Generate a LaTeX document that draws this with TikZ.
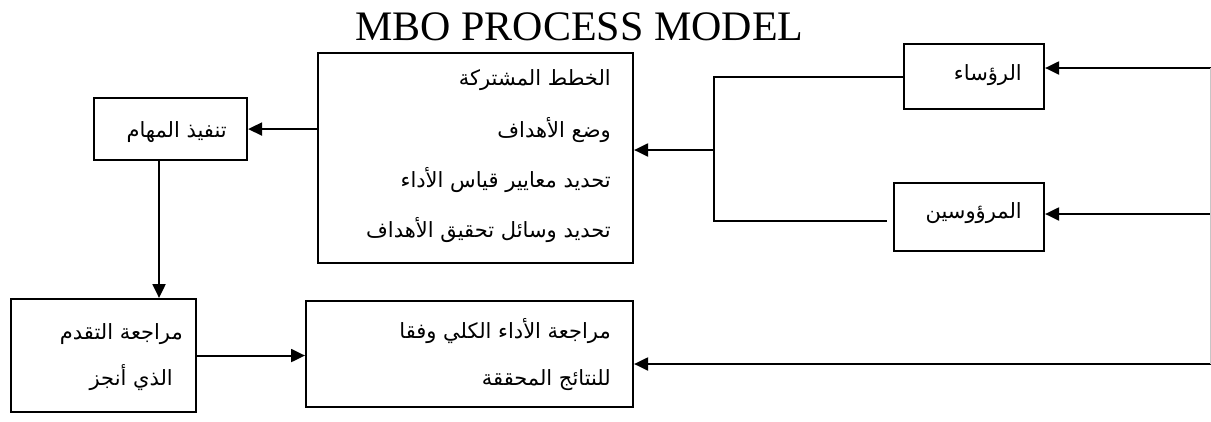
\documentclass[tikz,border=0pt]{standalone}
\usepackage{fontspec}
\setmainfont{Liberation Serif}
\newfontfamily\arabicfont[Script=Arabic]{DejaVu Sans}
\TeXXeTstate=1
\usetikzlibrary{arrows.meta,calc}
\tikzset{
  box/.style={draw, line width=2.1pt, anchor=north west, inner sep=0pt},
  ar/.style={anchor=base east, inner sep=0pt, font=\arabicfont\fontsize{21}{24}\selectfont},
  ln/.style={line width=2.1pt},
  arr/.style={ln, -{Triangle[length=14pt,width=13pt]}},
}
\begin{document}
\begin{tikzpicture}[x=1pt,y=-1pt]
\useasboundingbox (0,0) rectangle (1211,421);
% title
\node[anchor=base, inner sep=0pt, font=\fontsize{42}{46}\selectfont] (title) at (579.5,40) {MBO PROCESS MODEL};
% boxes
\node[box, minimum width=315pt, minimum height=210pt] (mid) at (317,52) {};
\node[box, minimum width=153pt, minimum height=62pt] (exec) at (93,97) {};
\node[box, minimum width=185pt, minimum height=113pt] (prog) at (10,298) {};
\node[box, minimum width=327pt, minimum height=106pt] (review) at (305,300) {};
\node[box, minimum width=140pt, minimum height=65pt] (heads) at (903,43) {};
\node[box, minimum width=150pt, minimum height=68pt] (sub) at (893,182) {};
% texts
\node[ar] (m1) at (611,85) {\beginR الخطط المشتركة\endR};
\node[ar] (m2) at (611,137) {\beginR وضع الأهداف\endR};
\node[ar] (m3) at (611,187) {\beginR تحديد معايير قياس الأداء\endR};
\node[ar] (m4) at (611,237) {\beginR تحديد وسائل تحقيق الأهداف\endR};
\node[ar] (e1) at (227,137) {\beginR تنفيذ المهام\endR};
\node[ar] (p1) at (183,339) {\beginR مراجعة التقدم\endR};
\node[ar] (p2) at (173,385) {\beginR الذي أنجز\endR};
\node[ar] (r1) at (611,338) {\beginR مراجعة الأداء الكلي وفقا\endR};
\node[ar] (r2) at (611,385) {\beginR للنتائج المحققة\endR};
\node[ar] (h1) at (1022,80) {\beginR الرؤساء\endR};
\node[ar] (s1) at (1022,218) {\beginR المرؤوسين\endR};
% coordinates
\coordinate (j) at (714,150);
\coordinate (jb) at (714,221);
\coordinate (subend) at (887,221);
\coordinate (rt) at (1211,68);
\coordinate (rs) at (1211,214);
\coordinate (rb) at (1211,364);
\coordinate (dn) at ($(exec.south)+(-11.5,0)$);
% connectors
\draw[arr] (exec.east -| mid.west) -- (exec.east);
\draw[arr] (dn) -- (dn |- prog.north);
\draw[arr] (prog.east) -- (prog.east -| review.west);
\draw[ln] (heads.west) -| (jb) -- (subend);
\draw[arr] (j) -- (j -| mid.east);
\draw[arr] (rt) -- (rt -| heads.east);
\draw[arr] (rs) -- (rs -| sub.east);
\draw[arr] (rb) -- (rb -| review.east);
\draw[gray!45, line width=1pt] ([xshift=-0.5pt]rt) -- ([xshift=-0.5pt]rb);
\end{tikzpicture}
\end{document}
